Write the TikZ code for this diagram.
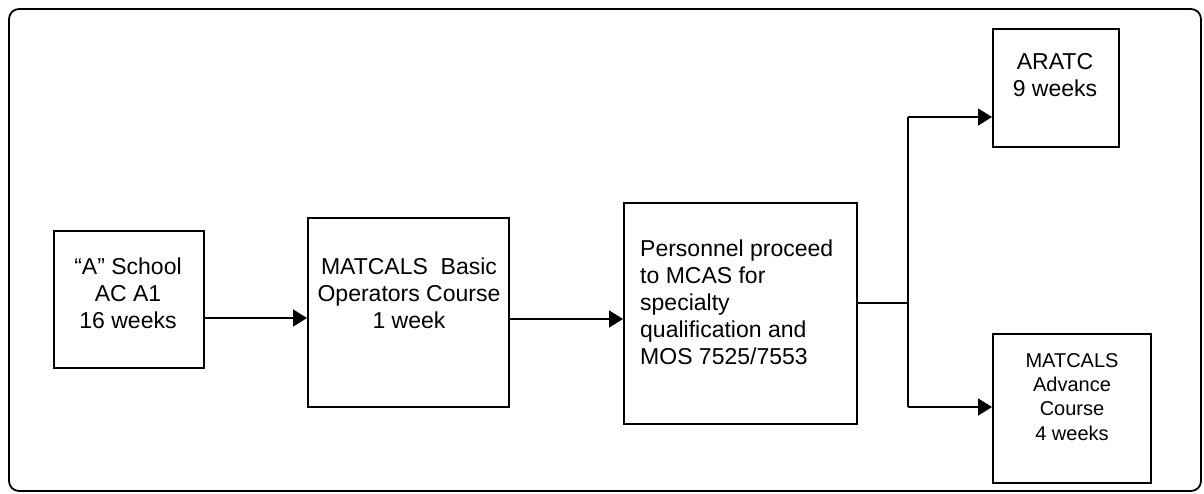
\documentclass[tikz,border=0pt]{standalone}
\usepackage{fontspec}
\setmainfont{Liberation Sans}
\usetikzlibrary{arrows.meta,calc}
\begin{document}
\begin{tikzpicture}[x=1pt,y=-1pt,
  box/.style={draw,line width=1.8pt,inner sep=0pt,anchor=north west},
  txt/.style={inner sep=0pt,font=\fontsize{23}{27}\selectfont},
  stxt/.style={inner sep=0pt,font=\fontsize{20}{24.3}\selectfont},
  arr/.style={line width=1.6pt,-{Triangle[length=14pt,width=17pt]}},
  ln/.style={line width=1.6pt}]
\useasboundingbox (0,0) rectangle (1204,493);
\draw[line width=1.8pt,rounded corners=10pt] (9,9) rectangle (1201,491);
% boxes
\node[box,minimum width=150pt,minimum height=137pt] (b1) at (53,230) {};
\node[box,minimum width=201pt,minimum height=189pt] (b2) at (307,217) {};
\node[box,minimum width=233pt,minimum height=221pt] (b3) at (623,202) {};
\node[box,minimum width=126pt,minimum height=118pt] (b4) at (992,28) {};
\node[box,minimum width=158pt,minimum height=149pt] (b5) at (992,333) {};
% texts
\node[txt,align=center,anchor=north] (t1) at (128,258) {``A'' School\\AC A1\\16 weeks};
\node[txt,align=center,anchor=north] (t2) at (409,258) {MATCALS\ \ Basic\\Operators Course\\1 week};
\node[txt,align=left,anchor=north west] (t3) at (640,240) {Personnel proceed\\to MCAS for\\specialty\\qualification and\\MOS 7525/7553};
\node[txt,align=center,anchor=north] (t4) at (1055,53) {ARATC\\9 weeks};
\node[stxt,align=center,anchor=north] (t5) at (1072,353) {MATCALS\\Advance\\Course\\4 weeks};
% connectors
\draw[arr] (b1.east |- 0,318) -- (b2.west |- 0,318);
\draw[arr] (b2.east |- 0,319) -- (b3.west |- 0,319);
\coordinate (fork) at (908,303);
\coordinate (forkt) at (908,117);
\coordinate (forkb) at (908,407);
\draw[ln] (b3.east |- fork) -- (fork);
\draw[ln] (forkt) -- (forkb);
\draw[arr] (forkt) -- (b4.west |- forkt);
\draw[arr] (forkb) -- (b5.west |- forkb);
\end{tikzpicture}
\end{document}
